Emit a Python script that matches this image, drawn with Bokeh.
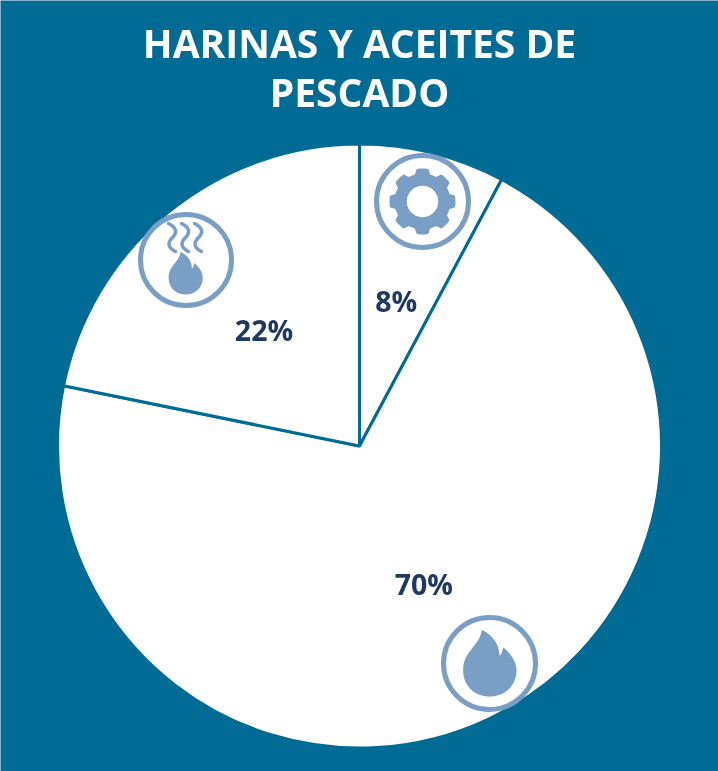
import numpy as np
from bokeh.plotting import figure
from bokeh.models import Range1d, ColumnDataSource
from bokeh.core.properties import value
from bokeh.embed import file_html
from bokeh.resources import INLINE

# ---- data ----
categories = ["Mecánico", "Combustión", "Secado"]
shares = [7.8, 70.4, 21.8]
share_labels = ["8%", "70%", "22%"]
title_lines = ["HARINAS Y ACEITES DE", "PESCADO"]

W, H = 718, 771
BG = "#006C96"
NAVY = "#1F3864"
ICON = "#7A9FC6"
TITLE_FONT = "Open Sans"
LABEL_FONT = "Open Sans"
CX, CY, R = 359, H - 445.5, 302

p = figure(width=W, height=H, x_range=Range1d(0, W), y_range=Range1d(0, H),
           output_backend="svg", toolbar_location=None, min_border=0,
           background_fill_color=BG, border_fill_color=BG, outline_line_color=None)
p.axis.visible = False
p.grid.visible = False
p.styles = {"position": "fixed", "left": "0", "top": "0"}

# ---- pie: clockwise from 12 o'clock ----
fr = np.array(shares, dtype=float) / sum(shares)
cum = np.concatenate([[0], np.cumsum(fr)])
start = np.pi / 2 - 2 * np.pi * cum[1:]
end = np.pi / 2 - 2 * np.pi * cum[:-1]
mid = (start + end) / 2
src = ColumnDataSource(dict(cat=categories, start=start, end=end, label=share_labels,
                            lx=CX + 0.5 * R * np.cos(mid), ly=CY + 0.5 * R * np.sin(mid) - 1))
p.wedge(x=CX, y=CY, radius=R, start_angle="start", end_angle="end", source=src,
        fill_color="white", line_color=BG, line_width=3)
p.text(x="lx", y="ly", text="label", source=src, text_font=value(LABEL_FONT),
       text_font_style="bold", text_font_size="28.5px", text_color=NAVY,
       text_align="center", text_baseline="middle")

# ---- title ----
p.text(x=[359, 359], y=[H - 41.5, H - 90.5], text=title_lines, text_font=value(TITLE_FONT),
       text_font_style="bold", text_font_size="39px", text_color="white",
       text_align="center", text_baseline="middle")


# ---- icons ----
def bez(pts, n=24):
    """Sample a chain of cubic Beziers: P0 C1 C2 P1 C1 C2 P2 ..."""
    pts = np.array(pts, dtype=float)
    out = []
    for i in range(0, len(pts) - 1, 3):
        a, b, c, d = pts[i:i + 4]
        t = np.linspace(0, 1, n)[:, None]
        out.append((1 - t) ** 3 * a + 3 * (1 - t) ** 2 * t * b + 3 * (1 - t) * t ** 2 * c + t ** 3 * d)
    return np.vstack(out)


# flame outline, relative to its bottom-centre, y downward, in 1/3 px units
FLAME = [(-23, -200), (-4, -190), (28, -170), (30, -122),
         (38, -128), (38, -140), (42, -147),
         (62, -130), (81, -105), (81, -78),
         (81, -32), (45, 0), (0, 0),
         (-45, 0), (-79, -32), (-79, -78),
         (-81, -135), (-30, -150), (-23, -200)]


def flame(px, py, s):
    pts = bez(FLAME) * s
    p.patch(px + pts[:, 0], H - (py + pts[:, 1]), fill_color=ICON, line_color=None)


def ring(px, py, r):
    p.circle(x=[px], y=[H - py], radius=r, fill_color="white", fill_alpha=0,
             line_color=ICON, line_width=5)


# big flame
ring(489, 663, 46)
flame(489, 696, 1 / 3)

# flame with smoke
ring(185.5, 259.5, 45.5)
flame(185, 294, 0.64 / 3)
for sx in (172, 185, 198):
    wig = bez([(-4, -28), (4, -24), (5, -19), (0, -14),
               (-5, -9), (-5, -4), (3, 0)], 16)
    p.line(sx + wig[:, 0], H - (251 + wig[:, 1]), line_color=ICON, line_width=3.5, line_cap="round")

# gear
ring(422, 201, 46)
teeth = 8
ang = np.linspace(0, 2 * np.pi, teeth * 40, endpoint=False)
phase = (ang * teeth / (2 * np.pi)) % 1
rad = np.where((phase < 0.22) | (phase > 0.78), 33,
               np.where((phase > 0.35) & (phase < 0.65), 28,
                        np.where(phase <= 0.35, 33 - (phase - 0.22) / 0.13 * 5,
                                 28 + (phase - 0.65) / 0.13 * 5)))
p.patch(422 + rad * np.cos(ang), H - 201 + rad * np.sin(ang), fill_color=ICON, line_color=None)
p.circle(x=[422], y=[H - 201], radius=15.7, fill_color="white", line_color=None)

open("out.html", "w").write(file_html(p, INLINE))
